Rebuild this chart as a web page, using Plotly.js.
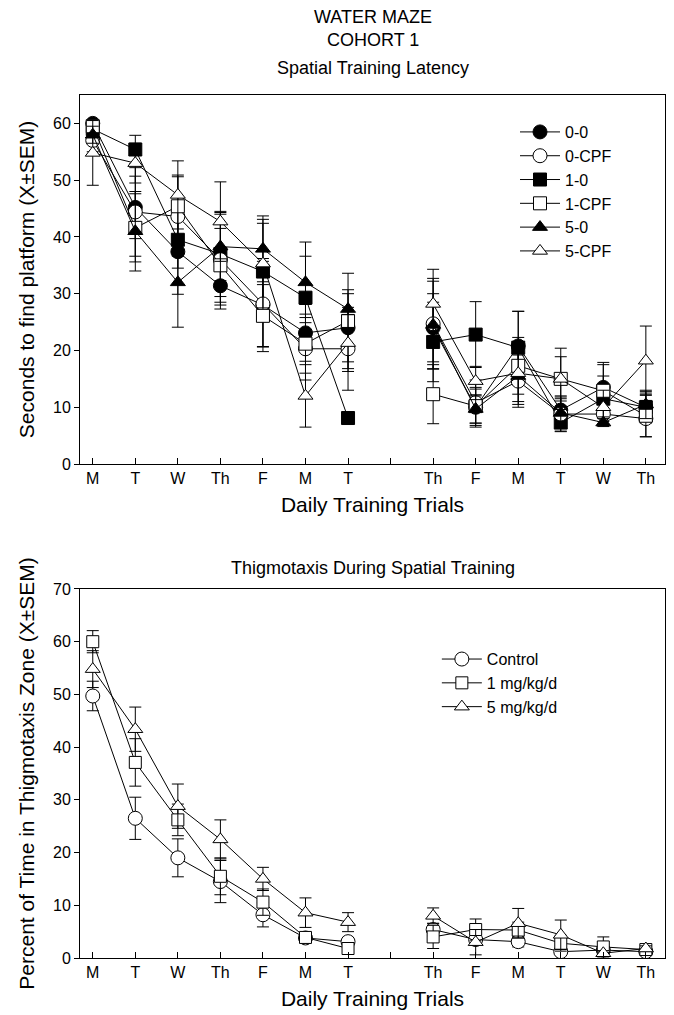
<!DOCTYPE html>
<html><head><meta charset="utf-8">
<script src="https://cdn.plot.ly/plotly-3.0.1.min.js"></script>
<style>html,body{margin:0;padding:0;background:#fff}#chart{width:674px;height:1015px}</style>
</head><body><div id="chart"></div>
<script>
// ---- tick labels (index 7 is the gap between the two training blocks)
const dayLabels = ['M','T','W','Th','F','M','T','','Th','F','M','T','W','Th'];

// ---- Spatial Training Latency (seconds), mean and SEM
const lat_00      = [60.0,45.2,37.4,31.4,28.0,23.1,24.0,null,24.0,10.0,20.8, 9.5,13.5,10.0];
const lat_00_sem  = [ 0.6, 5.5, 7.5, 4.1, 8.2, 5.0, 6.0,null, 6.0, 3.5, 6.1, 2.5, 4.4, 2.5];
const lat_0C      = [57.0,44.4,43.6,36.0,28.2,20.3,20.3,null,24.7,10.8,14.6, 8.8, 8.8, 8.0];
const lat_0C_sem  = [ 2.0, 7.8, 7.0, 8.0, 7.5, 5.5, 7.3,null, 8.0, 4.0, 4.6, 3.0, 2.0, 3.2];
const lat_10      = [59.0,55.4,39.5,37.0,33.9,29.3, 8.1,null,21.5,22.8,20.5, 7.3,11.5,10.0];
const lat_10_sem  = [ 1.0, 2.5, 5.0, 7.5, 8.5, 7.3, 0.7,null, 7.0, 5.8, 6.4, 1.6, 4.0, 2.8];
const lat_1C      = [59.5,41.6,45.4,35.0,26.1,21.2,25.2,null,12.3,10.2,17.3,15.0,12.9, 8.5];
const lat_1C_sem  = [ 1.0, 6.0, 5.5, 6.5, 5.5, 5.2, 8.4,null, 5.2, 3.0, 5.0, 3.9, 4.6, 3.7];
const lat_50      = [58.0,41.0,32.0,38.3,37.9,32.0,27.3,null,24.5, 9.7,15.5, 9.0, 7.3,10.5];
const lat_50_sem  = [ 1.5, 7.0, 7.9, 6.0, 5.8, 7.1, 3.4,null, 7.7, 2.5, 5.0, 2.5, 0.7, 2.5];
const lat_5C      = [54.8,53.0,47.4,42.7,35.3,12.0,21.3,null,28.2,14.6,16.0,15.0,10.0,18.2];
const lat_5C_sem  = [ 5.7, 3.5, 6.0, 7.0, 7.8, 5.5, 5.0,null, 6.1, 2.6, 5.0, 5.4, 3.0, 6.1];

// ---- Thigmotaxis (% time in zone), mean and SEM
const thig_ctrl     = [49.7,26.5,19.0,14.5, 8.2, 3.8, 3.1,null, 5.4, 3.5, 3.1, 1.2, 1.5, 1.2];
const thig_ctrl_sem = [ 2.8, 4.0, 3.6, 4.0, 2.3, 0.6, 0.8,null, 1.2, 1.0, 1.0, 0.5, 0.5, 0.4];
const thig_1mg      = [60.0,37.1,26.2,15.5,10.6, 3.9, 1.8,null, 4.0, 5.4, 5.3, 2.8, 2.1, 1.6];
const thig_1mg_sem  = [ 2.1, 4.5, 3.0, 3.5, 2.5, 0.5, 0.5,null, 2.2, 2.0, 1.5, 1.5, 1.9, 0.4];
const thig_5mg      = [54.8,43.4,28.8,22.5,15.0, 8.6, 6.8,null, 8.0, 3.0, 6.6, 4.4, 0.9, 1.8];
const thig_5mg_sem  = [ 3.5, 4.2, 4.2, 3.7, 2.2, 2.8, 1.8,null, 1.5, 2.4, 2.8, 2.8, 0.5, 0.5];

const xpos = dayLabels.map((d,i)=>i);
const FONT = 'Liberation Sans, Arial, sans-serif';

function series(name, y, sem, symbol, fill, size, xa, ya, legend){
  return {
    type:'scatter', mode:'lines+markers', name:name, x:xpos, y:y,
    xaxis:xa, yaxis:ya, legend:legend,
    line:{color:'black', width:1},
    marker:{symbol:symbol, size:size, color:fill, line:{color:'black', width:1}},
    error_y:{type:'data', array:sem, visible:true, color:'black', thickness:1, width:6},
    connectgaps:false
  };
}

const traces = [
  series('1-0',   lat_10, lat_10_sem, 'square',      'black', 13, 'x','y','legend'),
  series('0-0',   lat_00, lat_00_sem, 'circle',      'black', 14, 'x','y','legend'),
  series('0-CPF', lat_0C, lat_0C_sem, 'circle',      'white', 14, 'x','y','legend'),
  series('1-CPF', lat_1C, lat_1C_sem, 'square',      'white', 13, 'x','y','legend'),
  series('5-0',   lat_50, lat_50_sem, 'triangle-up', 'black', 13, 'x','y','legend'),
  series('5-CPF', lat_5C, lat_5C_sem, 'triangle-up', 'white', 13, 'x','y','legend'),
  series('Control',   thig_ctrl, thig_ctrl_sem, 'circle',      'white', 14, 'x2','y2','legend2'),
  series('1 mg/kg/d', thig_1mg,  thig_1mg_sem,  'square',      'white', 12, 'x2','y2','legend2'),
  series('5 mg/kg/d', thig_5mg,  thig_5mg_sem,  'triangle-up', 'white', 13, 'x2','y2','legend2')
];
// legend order as in the reference
traces[0].legendrank = 3; traces[1].legendrank = 1; traces[2].legendrank = 2;
traces[3].legendrank = 4; traces[4].legendrank = 5; traces[5].legendrank = 6;

const xCommon = {
  range:[-0.3,13.45], tickmode:'array', tickvals:xpos, ticktext:dayLabels,
  ticks:'inside', ticklen:6, tickcolor:'black', showline:true, mirror:true,
  linecolor:'black', linewidth:1, showgrid:false, zeroline:false,
  tickfont:{family:FONT, size:16, color:'black'},
  title:{text:'Daily Training Trials', font:{family:FONT, size:21, color:'black'}, standoff:11}
};
const yCommon = {
  ticks:'outside', ticklen:5, tickcolor:'black', showline:true, mirror:true,
  linecolor:'black', linewidth:1, showgrid:false, zeroline:false,
  tickfont:{family:FONT, size:16, color:'black'}
};
const yRight = {
  side:'right', ticks:'inside', ticklen:5, tickcolor:'black', showticklabels:false,
  showline:false, showgrid:false, zeroline:false
};

const layout = {
  width:674, height:1015,
  margin:{l:80, r:9, t:95, b:57},
  paper_bgcolor:'white', plot_bgcolor:'white',
  font:{family:FONT, color:'black'},
  showlegend:true,
  xaxis:Object.assign({}, xCommon, {anchor:'y', domain:[0,1]}),
  yaxis:Object.assign({}, yCommon, {anchor:'x', domain:[0.5724,1], range:[0,65], tickvals:[0,10,20,30,40,50,60],
    title:{text:'Seconds to find platform (X\u00B1SEM)', font:{family:FONT, size:21, color:'black'}, standoff:12}}),
  xaxis2:Object.assign({}, xCommon, {anchor:'y2', domain:[0,1]}),
  yaxis2:Object.assign({}, yCommon, {anchor:'x2', domain:[0,0.4276], range:[0,70], tickvals:[0,10,20,30,40,50,60,70],
    title:{text:'Percent of Time in Thigmotaxis Zone (X\u00B1SEM)', font:{family:FONT, size:21, color:'black'}, standoff:12}}),
  yaxis3:Object.assign({}, yRight, {overlaying:'y', anchor:'x', range:[0,65], tickvals:[0,10,20,30,40,50,60]}),
  yaxis4:Object.assign({}, yRight, {overlaying:'y2', anchor:'x2', range:[0,70], tickvals:[0,10,20,30,40,50,60,70]}),
  legend:{x:0.7436, y:0.9768, xanchor:'left', yanchor:'top', bgcolor:'rgba(0,0,0,0)', borderwidth:0,
    itemwidth:40, traceorder:'normal', font:{family:FONT, size:16, color:'black'}, itemclick:false},
  legend2:{x:0.610, y:0.366, xanchor:'left', yanchor:'top', bgcolor:'rgba(0,0,0,0)', borderwidth:0,
    itemwidth:40, font:{family:FONT, size:16, color:'black'}, itemclick:false},
  annotations:[
    {text:'WATER MAZE', xref:'paper', yref:'paper', x:0.5, y:(958-17)/863, showarrow:false, xanchor:'center', yanchor:'middle', font:{family:FONT, size:18, color:'black'}},
    {text:'COHORT 1', xref:'paper', yref:'paper', x:0.5, y:(958-40)/863, showarrow:false, xanchor:'center', yanchor:'middle', font:{family:FONT, size:18, color:'black'}},
    {text:'Spatial Training Latency', xref:'paper', yref:'paper', x:0.5, y:(958-68)/863, showarrow:false, xanchor:'center', yanchor:'middle', font:{family:FONT, size:18, color:'black'}},
    {text:'Thigmotaxis During Spatial Training', xref:'paper', yref:'paper', x:0.5, y:(958-568)/863, showarrow:false, xanchor:'center', yanchor:'middle', font:{family:FONT, size:18, color:'black'}}
  ]
};

Plotly.newPlot('chart', traces, layout, {displayModeBar:false, staticPlot:true});
</script>
</body></html>
